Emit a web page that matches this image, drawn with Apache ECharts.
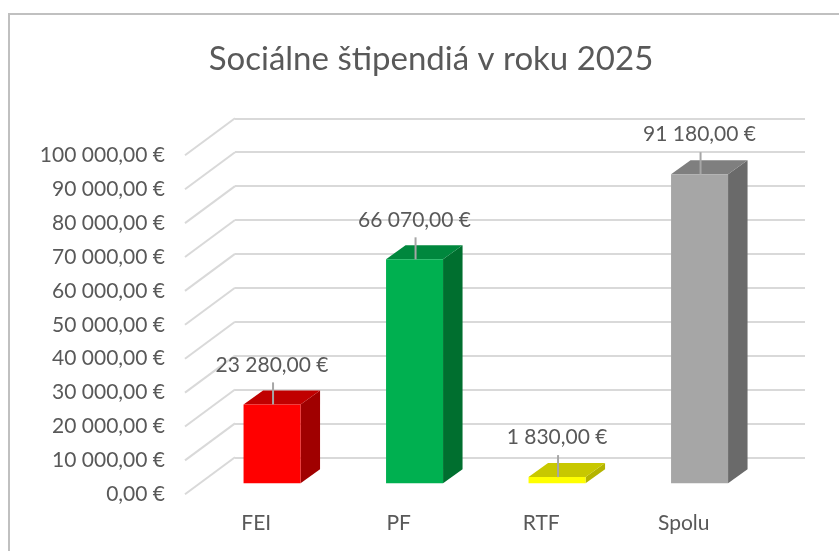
<!DOCTYPE html>
<html>
<head>
<meta charset="utf-8">
<script src="https://cdn.jsdelivr.net/npm/echarts@6/dist/echarts.min.js"></script>
<style>
html,body{margin:0;padding:0;background:#fff;}
#c{width:839px;height:551px;}
</style>
</head>
<body>
<div id="c"></div>
<script>
const titleText = 'Sociálne štipendiá v roku 2025';
const categories = ['FEI', 'PF', 'RTF', 'Spolu'];
const values = [23280, 66070, 1830, 91180];
const yTicks = [0, 10000, 20000, 30000, 40000, 50000, 60000, 70000, 80000, 90000, 100000];
const frontColors = ['#ff0000', '#00b050', '#ffff00', '#a6a6a6'];
const topColors = ['#c00000', '#00873d', '#c8c800', '#7f7f7f'];
const sideColors = ['#a00000', '#006f2f', '#b4b400', '#6a6a6a'];

const FONT = 'Lato';
const TXT = '#595959';
const DX = 19.5, DY = -14;     // bar depth offset
const WX = 50, WY = 37;        // side wall depth

function fmt(v) {
  const s = Math.round(v).toString().replace(/\B(?=(\d{3})+(?!\d))/g, ' ');
  return s + ',00 €';
}

const chart = echarts.init(document.getElementById('c'), null, {renderer: 'canvas'});
const W = 570, H = 339;

const option = {
  backgroundColor: '#ffffff',
  animation: false,
  graphic: [
    {type: 'polyline', shape: {points: [[9, 551], [9, 14], [839, 14]]}, style: {stroke: '#c0c0c0', lineWidth: 2, fill: null}, z: 10},
    {type: 'text', x: 431, y: 59, style: {text: titleText, font: '33px ' + FONT, fill: TXT, textAlign: 'center', textVerticalAlign: 'middle'}}
  ],
  grid: [
    {left: 200.8, top: 144.3, width: W, height: H},
    {left: 235, top: 118.3, width: W, height: H},
    {left: 185, top: 155.3, width: W, height: H}
  ],
  xAxis: [
    {gridIndex: 0, type: 'category', data: categories, show: false},
    {gridIndex: 1, type: 'category', data: categories, show: false},
    {gridIndex: 2, type: 'category', data: categories,
      axisLine: {show: false}, axisTick: {show: false}, splitLine: {show: false},
      axisLabel: {margin: 18, color: TXT, fontFamily: FONT, fontSize: 21}}
  ],
  yAxis: [
    {gridIndex: 0, type: 'value', min: 0, max: 100000, interval: 10000, show: false},
    {gridIndex: 1, type: 'value', min: 0, max: 100000, interval: 10000,
      axisLine: {show: false}, axisTick: {show: false}, axisLabel: {show: false},
      splitLine: {show: true, lineStyle: {color: '#d9d9d9', width: 2}}},
    {gridIndex: 2, type: 'value', min: 0, max: 100000, interval: 10000,
      axisLine: {show: false}, axisTick: {show: false}, splitLine: {show: false},
      axisLabel: {margin: 20, color: TXT, fontFamily: FONT, fontSize: 21, formatter: fmt}}
  ],
  series: [
    {
      type: 'custom', xAxisIndex: 1, yAxisIndex: 1, silent: true, z: 1,
      data: yTicks.map(v => [0, v]),
      renderItem: function (params, api) {
        const y = api.coord([0, api.value(1)])[1];
        const x = params.coordSys.x;
        return {type: 'line', shape: {x1: x - WX, y1: y + WY, x2: x, y2: y},
          style: {stroke: '#d9d9d9', lineWidth: 2}};
      }
    },
    {
      type: 'custom', xAxisIndex: 0, yAxisIndex: 0, silent: true, z: 5,
      data: values.map((v, i) => [i, v]),
      renderItem: function (params, api) {
        const i = api.value(0);
        const v = api.value(1);
        const base = api.coord([i, 0]);
        const top = api.coord([i, v]);
        const bw = api.size([1, 0])[0] * 0.4;
        const x0 = base[0] - bw / 2, x1 = base[0] + bw / 2;
        const yb = base[1], yt = top[1];
        const cx = base[0];
        return {
          type: 'group',
          children: [
            {type: 'polygon', shape: {points: [[x1, yt], [x1 + DX, yt + DY], [x1 + DX, yb + DY], [x1, yb]]},
              style: {fill: sideColors[i]}},
            {type: 'polygon', shape: {points: [[x0, yt], [x0 + DX, yt + DY], [x1 + DX, yt + DY], [x1, yt]]},
              style: {fill: topColors[i]}},
            {type: 'rect', shape: {x: x0, y: yt, width: bw, height: yb - yt},
              style: {fill: frontColors[i]}},
            {type: 'line', shape: {x1: cx + 1, y1: yt - 22, x2: cx + 1, y2: yt},
              style: {stroke: '#a6a6a6', lineWidth: 2}},
            {type: 'text', x: cx, y: yt - 39.5,
              style: {text: fmt(v), font: '21px ' + FONT, fill: TXT, textAlign: 'center', textVerticalAlign: 'middle'}}
          ]
        };
      }
    }
  ]
};
chart.setOption(option);
</script>
</body>
</html>
